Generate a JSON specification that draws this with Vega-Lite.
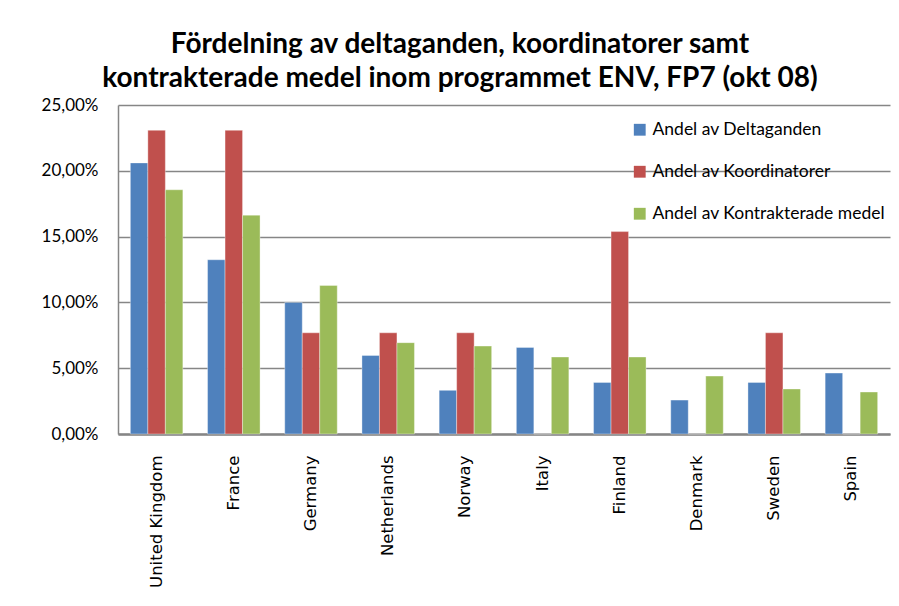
{
  "$schema": "https://vega.github.io/schema/vega-lite/v6.json",
  "autosize": {"type": "none"},
  "width": 772,
  "height": 329,
  "padding": {"left": 118, "top": 105, "right": 9, "bottom": 172},
  "background": "white",
  "config": {"view": {"stroke": null}},
  "title": {
    "text": ["Fördelning av deltaganden, koordinatorer samt", "kontrakterade medel inom programmet ENV, FP7 (okt 08)"],
    "font": "Lato",
    "fontSize": 28,
    "fontWeight": "bold",
    "color": "#000000",
    "anchor": "middle",
    "frame": "group",
    "dx": -44,
    "offset": 3,
    "lineHeight": 34
  },
  "data": {
    "values": [
      {"country": "United Kingdom", "series": "Andel av Deltaganden", "value": 0.206},
      {"country": "United Kingdom", "series": "Andel av Koordinatorer", "value": 0.2308},
      {"country": "United Kingdom", "series": "Andel av Kontrakterade  medel", "value": 0.1856},
      {"country": "France", "series": "Andel av Deltaganden", "value": 0.1324},
      {"country": "France", "series": "Andel av Koordinatorer", "value": 0.2308},
      {"country": "France", "series": "Andel av Kontrakterade  medel", "value": 0.1663},
      {"country": "Germany", "series": "Andel av Deltaganden", "value": 0.1},
      {"country": "Germany", "series": "Andel av Koordinatorer", "value": 0.0769},
      {"country": "Germany", "series": "Andel av Kontrakterade  medel", "value": 0.1129},
      {"country": "Netherlands", "series": "Andel av Deltaganden", "value": 0.0597},
      {"country": "Netherlands", "series": "Andel av Koordinatorer", "value": 0.0769},
      {"country": "Netherlands", "series": "Andel av Kontrakterade  medel", "value": 0.0694},
      {"country": "Norway", "series": "Andel av Deltaganden", "value": 0.0332},
      {"country": "Norway", "series": "Andel av Koordinatorer", "value": 0.0769},
      {"country": "Norway", "series": "Andel av Kontrakterade  medel", "value": 0.0668},
      {"country": "Italy", "series": "Andel av Deltaganden", "value": 0.0658},
      {"country": "Italy", "series": "Andel av Koordinatorer", "value": 0},
      {"country": "Italy", "series": "Andel av Kontrakterade  medel", "value": 0.0585},
      {"country": "Finland", "series": "Andel av Deltaganden", "value": 0.0392},
      {"country": "Finland", "series": "Andel av Koordinatorer", "value": 0.1538},
      {"country": "Finland", "series": "Andel av Kontrakterade  medel", "value": 0.0585},
      {"country": "Denmark", "series": "Andel av Deltaganden", "value": 0.0258},
      {"country": "Denmark", "series": "Andel av Koordinatorer", "value": 0},
      {"country": "Denmark", "series": "Andel av Kontrakterade  medel", "value": 0.044},
      {"country": "Sweden", "series": "Andel av Deltaganden", "value": 0.0392},
      {"country": "Sweden", "series": "Andel av Koordinatorer", "value": 0.0769},
      {"country": "Sweden", "series": "Andel av Kontrakterade  medel", "value": 0.0342},
      {"country": "Spain", "series": "Andel av Deltaganden", "value": 0.0463},
      {"country": "Spain", "series": "Andel av Koordinatorer", "value": 0},
      {"country": "Spain", "series": "Andel av Kontrakterade  medel", "value": 0.0319}
    ]
  },
  "mark": {"type": "bar", "stroke": "white", "strokeWidth": 0.6, "strokeOpacity": 0.6},
  "encoding": {
    "x": {
      "field": "country",
      "type": "nominal",
      "sort": null,
      "scale": {"paddingInner": 0.32, "paddingOuter": 0.16},
      "axis": {
        "title": null,
        "labelAngle": 270,
        "labelAlign": "right",
        "labelBaseline": "middle",
        "labelFont": "DejaVu Sans",
        "labelFontSize": 16.5,
        "labelColor": "#000000",
        "labelPadding": 21,
        "ticks": false,
        "domainColor": "#868686",
        "domainWidth": 2.5
      }
    },
    "xOffset": {"field": "series", "type": "nominal", "sort": null, "scale": {"paddingInner": 0, "paddingOuter": 0}},
    "y": {
      "field": "value",
      "type": "quantitative",
      "scale": {"domain": [0, 0.25], "nice": false},
      "axis": {
        "title": null,
        "values": [0, 0.05, 0.1, 0.15, 0.2, 0.25],
        "labelExpr": "replace(format(datum.value, '.2%'), '.', ',')",
        "labelFont": "Lato",
        "labelFontSize": 17,
        "labelColor": "#000000",
        "labelPadding": 20,
        "ticks": false,
        "domainColor": "#868686",
        "domainWidth": 1.5,
        "gridColor": "#868686",
        "gridWidth": 1.5
      }
    },
    "color": {
      "field": "series",
      "type": "nominal",
      "sort": null,
      "scale": {
        "domain": ["Andel av Deltaganden", "Andel av Koordinatorer", "Andel av Kontrakterade  medel"],
        "range": ["#4F81BD", "#C0504D", "#9BBB59"]
      },
      "legend": {
        "title": null,
        "orient": "none",
        "legendX": 513,
        "legendY": 16,
        "symbolType": "square",
        "symbolSize": 140,
        "symbolStrokeWidth": 0,
        "labelFont": "Lato",
        "labelFontSize": 17.5,
        "labelColor": "#000000",
        "labelOffset": 4,
        "rowPadding": 23,
        "labelLimit": 300
      }
    }
  }
}
